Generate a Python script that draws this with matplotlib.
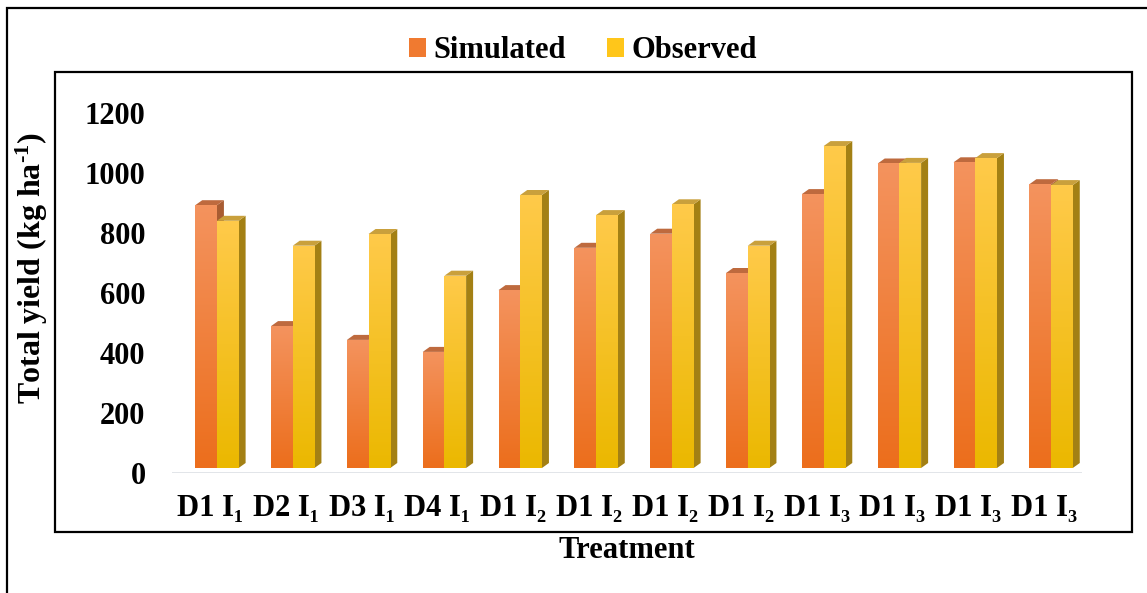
import numpy as np
import matplotlib
import matplotlib.pyplot as plt
from matplotlib.patches import Polygon, Rectangle, Patch
from matplotlib.colors import LinearSegmentedColormap

# data (kg/ha)
treatments = ['D1 I\u2081', 'D2 I\u2081', 'D3 I\u2081', 'D4 I\u2081',
              'D1 I\u2082', 'D1 I\u2082', 'D1 I\u2082', 'D1 I\u2082',
              'D1 I\u2083', 'D1 I\u2083', 'D1 I\u2083', 'D1 I\u2083']
simulated = [876, 473, 427, 387, 593, 734, 781, 650, 913, 1015, 1019, 946]
observed = [824, 741, 780, 641, 910, 843, 879, 741, 1073, 1017, 1033, 943]
yticks = [0, 200, 400, 600, 800, 1000, 1200]
series_names = ['Simulated', 'Observed']

plt.rcParams['font.family'] = ['Liberation Serif', 'DejaVu Serif']
plt.rcParams['font.weight'] = 'bold'
plt.rcParams['mathtext.fontset'] = 'custom'
plt.rcParams['mathtext.rm'] = 'Liberation Serif:bold'
plt.rcParams['mathtext.it'] = 'Liberation Serif:bold'
plt.rcParams['mathtext.bf'] = 'Liberation Serif:bold'
plt.rcParams['mathtext.default'] = 'rm'

# colours: (front gradient bottom, front gradient top, top face, side face)
styles = [
    ('#EC6E1C', '#F4935E', '#BE6A3E', '#A85C32'),
    ('#EBB800', '#FFCA4A', '#C9A03C', '#A38014'),
]

W, H = 1147, 593
fig = plt.figure(figsize=(W / 100, H / 100), dpi=100)
ax = fig.add_axes([172 / W, 120 / H, 910 / W, 360 / H])
xlim = (-0.5, 11.5)
ylim = (0, 1200)

# 3d depth offset, 7 px right and 5 px up, in data units
dxd = 7 * (xlim[1] - xlim[0]) / ax.bbox.width
dyd = 5 * (ylim[1] - ylim[0]) / ax.bbox.height
w = 0.286
idx = np.arange(len(treatments))
grad = np.linspace(0, 1, 256).reshape(-1, 1)

for k, vals in enumerate([simulated, observed]):
    c_bot, c_top, c_lid, c_side = styles[k]
    cmap = LinearSegmentedColormap.from_list('g%d' % k, [c_bot, c_top])
    lefts = idx + (k - 1) * w + dxd
    z = 2 + 2 * k
    bars = ax.bar(lefts, vals, width=w, bottom=dyd, align='edge',
                  color='none', edgecolor='none', zorder=z + 1)
    for p in bars:
        x0, y0 = p.get_x(), p.get_y()
        x1, y1 = x0 + p.get_width(), y0 + p.get_height()
        # side and top faces
        ax.add_patch(Polygon([(x1, y0), (x1 + dxd, y0 + dyd),
                              (x1 + dxd, y1 + dyd), (x1, y1)],
                             closed=True, fc=c_side, ec='none', zorder=z))
        ax.add_patch(Polygon([(x0, y1), (x1, y1), (x1 + dxd, y1 + dyd),
                              (x0 + dxd, y1 + dyd)],
                             closed=True, fc=c_lid, ec='none', zorder=z))
        im = ax.imshow(grad, cmap=cmap, extent=(x0, x1, y0, y1),
                       aspect='auto', origin='lower', zorder=z + 1)
        im.set_clip_path(p)

ax.set_xlim(*xlim)
ax.set_ylim(*ylim)
ax.axhline(0, color='#D9DDE3', lw=1.8, zorder=1)
for s in ax.spines.values():
    s.set_visible(False)

ax.set_xticks(idx, treatments)
ax.set_yticks(yticks)
ax.tick_params(axis='x', length=0, labelsize=22, pad=15)
ax.tick_params(axis='y', length=0, labelsize=22, pad=19)

fig.text(32 / W, 1 - 268 / H, r'Total yield (kg ha$^{\text{-1}}$)',
         rotation=90, ha='center', va='center', fontsize=23)
fig.text(627 / W, 1 - 550 / H, 'Treatment', ha='center', va='center',
         fontsize=22)

handles = [Patch(facecolor='#F07A30'), Patch(facecolor='#FFC61A')]
fig.legend(handles, series_names, loc='center',
           bbox_to_anchor=(583 / W, 1 - 51 / H), ncol=2, frameon=False,
           fontsize=22, handlelength=0.56, handleheight=0.56,
           handletextpad=0.25, columnspacing=1.35)

# inner chart box and outer frame
fig.add_artist(Rectangle((55 / W, 1 - 532 / H), 1077 / W, 460 / H,
                         transform=fig.transFigure, fill=False,
                         ec='black', lw=1.6))
fig.add_artist(Rectangle((7 / W, -0.1), 1.2, 1.1 - 8 / H,
                         transform=fig.transFigure, fill=False,
                         ec='black', lw=1.6, clip_on=False))

fig.savefig('out.png', dpi=100)
